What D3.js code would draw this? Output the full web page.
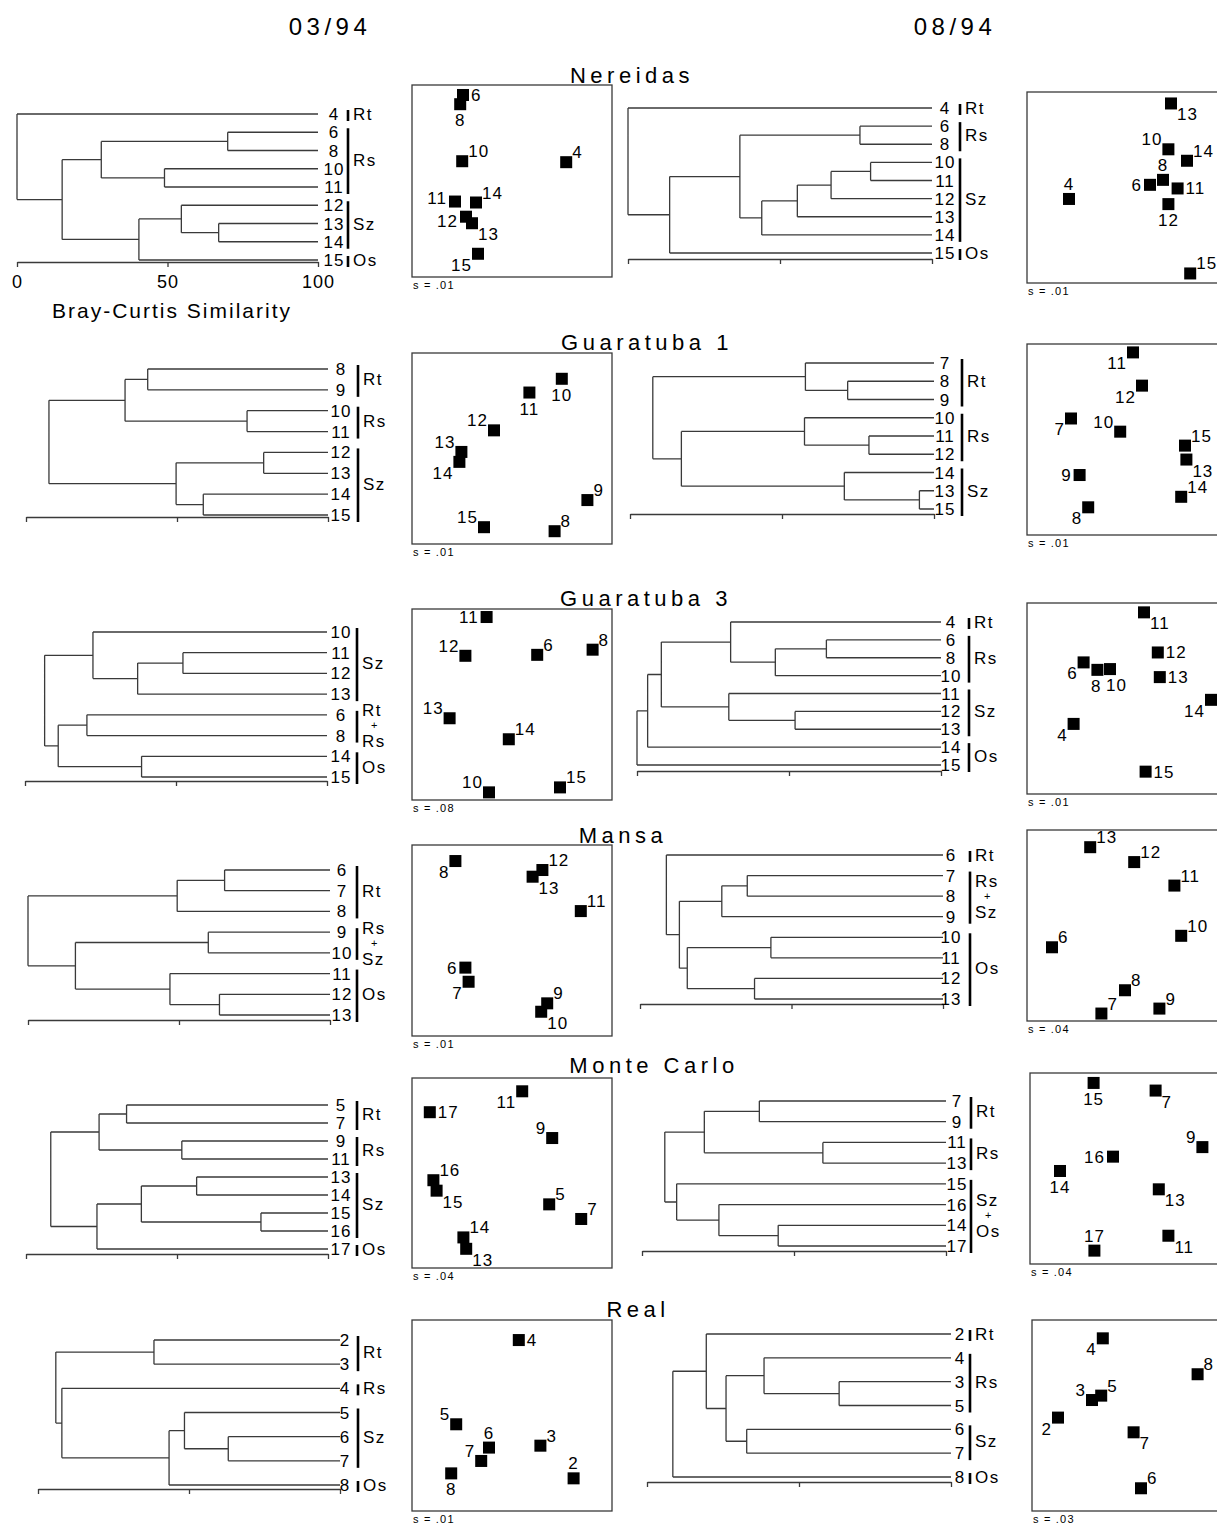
<!DOCTYPE html>
<html>
<head>
<meta charset="utf-8">
<script src="https://cdn.jsdelivr.net/npm/d3@7"></script>
<style>
  body { margin: 0; background: #fff; }
  svg { display: block; font-family: "Liberation Sans", Arial, sans-serif; }
</style>
</head>
<body>
<div id="chart"></div>
<script>
// ---- data ----
var dates = ["03/94", "08/94"];
var sites = ["Nereidas", "Guaratuba 1", "Guaratuba 3", "Mansa", "Monte Carlo", "Real"];
var similarityTicks = [0, 50, 100];

// dendrograms: [similarity, childA, childB], leaves are station labels
var treeNer03 = [0, "4", [15, [28, [70, "6", "8"], [49, "10", "11"]], [40.5, [54.6, "12", [67, "13", "14"]], "15"]]];
var treeNer08 = [0, "4", [13.7, [36.8, [76.3, "6", "8"], [44, [55.7, [66.8, [79.8, "10", "11"], "12"], "13"], "14"]], "15"]];
var treeGu1_03 = [7.6, [32.8, [40.3, "8", "9"], [73.2, "10", "11"]], [49.7, [78.7, "12", "13"], [58.7, "14", "15"]]];
var treeGu1_08 = [7.5, [57.7, "7", [71.6, "8", "9"]], [16.9, [57.4, "10", [78.6, "11", "12"]], [70.5, "14", [95.2, "13", "15"]]]];
var treeGu3_03 = [6.5, [22.5, "10", [37.3, [52.3, "11", "12"], "13"]], [11, [20.5, "6", "8"], [38.6, "14", "15"]]];
var treeGu3_08 = [0, [3.5, [8, [30.8, "4", [45.5, [62.3, "6", "8"], "10"]], [30.2, "11", [52, "12", "13"]]], "14"], "15"];
var treeMan03 = [0, [49.4, [65.1, "6", "7"], "8"], [15.7, [59.7, "9", "10"], [47, "11", [63.4, "12", "13"]]]];
var treeMan08 = [8.7, "6", [13, [27, [35.4, "7", "8"], "9"], [15.6, [43.2, "10", "11"], [37.8, "12", "13"]]]];
var treeMC03 = [8.2, [24.2, [33.3, "5", "7"], [51.6, "9", "11"]], [23.5, [38.2, [56.5, "13", "14"], [77.8, "15", "16"]], "17"]];
var treeMC08 = [7.5, [20.5, [38.6, "7", "9"], [59.5, "11", "13"]], [11.4, "15", [25.3, "16", [44.8, "14", "17"]]]];
var treeReal03 = [5.9, [38.4, "2", "3"], [7.9, "4", [43.4, [48.5, "5", [63, "6", "7"]], "8"]]];
var treeReal08 = [8.5, [19.5, "2", [26, [38.5, "4", [63.2, "3", "5"]], [32.8, "6", "7"]]], "8"];

// zone groups: [zone(s), first leaf, last leaf]
var groupsNer03 = [["Rt", "4", "4"], ["Rs", "6", "11"], ["Sz", "12", "14"], ["Os", "15", "15"]];
var groupsNer08 = [["Rt", "4", "4"], ["Rs", "6", "8"], ["Sz", "10", "14"], ["Os", "15", "15"]];
var groupsGu1_03 = [["Rt", "8", "9"], ["Rs", "10", "11"], ["Sz", "12", "15"]];
var groupsGu1_08 = [["Rt", "7", "9"], ["Rs", "10", "12"], ["Sz", "14", "15"]];
var groupsGu3_03 = [["Sz", "10", "13"], [["Rt", "Rs"], "6", "8"], ["Os", "14", "15"]];
var groupsGu3_08 = [["Rt", "4", "4"], ["Rs", "6", "10"], ["Sz", "11", "13"], ["Os", "14", "15"]];
var groupsMan03 = [["Rt", "6", "8"], [["Rs", "Sz"], "9", "10"], ["Os", "11", "13"]];
var groupsMan08 = [["Rt", "6", "6"], [["Rs", "Sz"], "7", "9"], ["Os", "10", "13"]];
var groupsMC03 = [["Rt", "5", "7"], ["Rs", "9", "11"], ["Sz", "13", "16"], ["Os", "17", "17"]];
var groupsMC08 = [["Rt", "7", "9"], ["Rs", "11", "13"], [["Sz", "Os"], "15", "17"]];
var groupsReal03 = [["Rt", "2", "3"], ["Rs", "4", "4"], ["Sz", "5", "7"], ["Os", "8", "8"]];
var groupsReal08 = [["Rt", "2", "2"], ["Rs", "4", "5"], ["Sz", "6", "7"], ["Os", "8", "8"]];

// MDS ordinations: [station, dim1 (0-100), dim2 (0-100, top to bottom), label side]
var mdsNer03 = [["6", 25.5, 5.2, "r"], ["8", 24.1, 10, "b"], ["10", 25.1, 39.7, "tr"], ["4", 77.1, 40.2, "tr"],
  ["11", 21.5, 60.7, "lu"], ["14", 32, 61.2, "tr"], ["12", 27, 68.6, "ld"], ["13", 30, 72, "br"], ["15", 33, 87.9, "bl"]];
var mdsNer08 = [["13", 72, 6, "br"], ["10", 70.7, 30, "tl"], ["14", 80, 36, "tr"], ["8", 68, 46, "t"], ["6", 61.5, 48.6, "l"],
  ["11", 75.3, 50.5, "r"], ["12", 70.7, 58.7, "b"], ["4", 21, 56, "t"], ["15", 81.6, 95, "tr"]];
var mdsGu1_03 = [["10", 74.9, 13.5, "b"], ["11", 58.7, 20.7, "b"], ["12", 41, 40.5, "tl"], ["13", 24.7, 51.8, "tl"],
  ["14", 23.7, 57, "bl"], ["9", 87.7, 77, "tr"], ["15", 36, 91.2, "tl"], ["8", 71.3, 93.3, "tr"]];
var mdsGu1_08 = [["11", 53, 4.4, "bl"], ["12", 57.5, 21.8, "bl"], ["7", 22, 39, "bl"], ["10", 46.6, 45.9, "tl"],
  ["15", 79, 53.2, "tr"], ["13", 79.7, 60.5, "br"], ["9", 26.3, 68.6, "l"], ["14", 77.1, 80, "tr"], ["8", 30.6, 85.5, "bl"]];
var mdsGu3_03 = [["11", 37.3, 4.2, "l"], ["12", 26.7, 24.5, "tl"], ["6", 62.6, 24, "tr"], ["8", 90.3, 21.3, "tr"],
  ["13", 18.8, 57.2, "tl"], ["14", 48.4, 68.2, "tr"], ["10", 38.5, 96, "tl"], ["15", 74, 93.4, "tr"]];
var mdsGu3_08 = [["11", 58.5, 4.9, "br"], ["12", 65.4, 25.9, "r"], ["13", 66.4, 38.8, "r"], ["6", 28.3, 31.1, "bl"],
  ["8", 35.2, 35, "bw"], ["10", 41.5, 34.6, "be"], ["14", 92, 50.7, "bl"], ["4", 23.3, 63.3, "bl"], ["15", 59.3, 88.3, "r"]];
var mdsMan03 = [["8", 21.7, 8.4, "bl"], ["12", 65.2, 13.1, "tr"], ["13", 60.3, 16.6, "br"], ["11", 84.4, 34.6, "tr"],
  ["6", 26.7, 64.2, "l"], ["7", 28.3, 71.6, "bl"], ["9", 67.6, 82.9, "tr"], ["10", 64.6, 87.3, "br"]];
var mdsMan08 = [["13", 31.6, 9, "tr"], ["12", 53.6, 16.8, "tr"], ["11", 73.7, 29.1, "tr"], ["10", 77.1, 55.4, "tr"],
  ["6", 12.5, 61.4, "tr"], ["8", 49, 83.9, "tr"], ["9", 66.2, 93.5, "tr"], ["7", 37.2, 96.1, "tr"]];
var mdsMC03 = [["11", 55.1, 7, "bl"], ["17", 8.9, 18, "r"], ["9", 70.1, 31.6, "tl"], ["16", 10.7, 53.8, "tr"],
  ["15", 12.3, 59.3, "br"], ["5", 68.6, 66.5, "tr"], ["7", 84.6, 74.2, "tr"], ["14", 25.7, 83.9, "tr"], ["13", 27.1, 89.9, "br"]];
var mdsMC08 = [["15", 31.8, 5.2, "b"], ["7", 62.8, 9.2, "br"], ["9", 86.2, 38.8, "tl"], ["16", 41.5, 43.8, "l"],
  ["14", 15, 51.3, "b"], ["13", 64.4, 60.9, "br"], ["17", 32.2, 93, "t"], ["11", 69.2, 85.2, "br"]];
var mdsReal03 = [["4", 53.4, 10.5, "r"], ["5", 22.1, 54.6, "tl"], ["6", 38.5, 66.8, "t"], ["7", 34.6, 73.8, "tl"],
  ["3", 64.2, 65.8, "tr"], ["2", 80.8, 82.9, "t"], ["8", 19.6, 80.3, "b"]];
var mdsReal08 = [["4", 35.4, 9.6, "bl"], ["8", 82.8, 28.4, "tr"], ["5", 34.6, 39.6, "tr"], ["3", 30, 41.9, "tl"],
  ["2", 13, 51.1, "bl"], ["7", 50.8, 58.8, "br"], ["6", 54.5, 88.1, "tr"]];

var stress03 = [".01", ".01", ".08", ".01", ".04", ".01"];
var stress08 = [".01", ".01", ".01", ".04", ".04", ".03"];

// ---- layout (pixels) ----
var layout03 = [
  {x0: 17, x1: 318, y0: 114, y1: 260, ay: 262, lx: 334, bx: 348, px: 412, py: 85, ph: 192},
  {x0: 26, x1: 328, y0: 369, y1: 515, ay: 517, lx: 341, bx: 358, px: 412, py: 353, ph: 191},
  {x0: 25, x1: 327, y0: 632, y1: 777, ay: 781, lx: 341, bx: 357, px: 412, py: 609, ph: 191},
  {x0: 28, x1: 330, y0: 870, y1: 1015, ay: 1020, lx: 342, bx: 357, px: 412, py: 845, ph: 191},
  {x0: 26, x1: 328, y0: 1105, y1: 1249, ay: 1254, lx: 341, bx: 357, px: 412, py: 1078, ph: 190},
  {x0: 38, x1: 340, y0: 1340, y1: 1485, ay: 1489, lx: 345, bx: 358, px: 412, py: 1320, ph: 191}
];
var layout08 = [
  {x0: 628, x1: 932, y0: 108, y1: 253, ay: 259, lx: 945, bx: 960, px: 1027, py: 92, ph: 191},
  {x0: 630, x1: 934, y0: 363, y1: 509, ay: 514, lx: 945, bx: 962, px: 1027, py: 344, ph: 191},
  {x0: 637, x1: 941, y0: 622, y1: 765, ay: 771, lx: 951, bx: 969, px: 1027, py: 603, ph: 191},
  {x0: 640, x1: 943, y0: 855, y1: 999, ay: 1004, lx: 951, bx: 970, px: 1027, py: 830, ph: 191},
  {x0: 642, x1: 946, y0: 1101, y1: 1246, ay: 1251, lx: 957, bx: 971, px: 1030, py: 1073, ph: 191},
  {x0: 647, x1: 951, y0: 1334, y1: 1477, ay: 1482, lx: 960, bx: 970, px: 1032, py: 1320, ph: 191}
];
var siteTitles = [[632, 83], [647, 350], [646, 606], [623, 843], [654, 1073], [638, 1317]];

var trees03 = [treeNer03, treeGu1_03, treeGu3_03, treeMan03, treeMC03, treeReal03];
var trees08 = [treeNer08, treeGu1_08, treeGu3_08, treeMan08, treeMC08, treeReal08];
var groups03 = [groupsNer03, groupsGu1_03, groupsGu3_03, groupsMan03, groupsMC03, groupsReal03];
var groups08 = [groupsNer08, groupsGu1_08, groupsGu3_08, groupsMan08, groupsMC08, groupsReal08];
var mds03 = [mdsNer03, mdsGu1_03, mdsGu3_03, mdsMan03, mdsMC03, mdsReal03];
var mds08 = [mdsNer08, mdsGu1_08, mdsGu3_08, mdsMan08, mdsMC08, mdsReal08];

var width = 1217, height = 1528;
var lineColor = "#3a3a3a";

var svg = d3.select("#chart").append("svg")
    .attr("width", width)
    .attr("height", height);

svg.append("rect").attr("width", width).attr("height", height).attr("fill", "#fff");

// column headings
svg.selectAll("text.date").data(dates).enter().append("text")
    .attr("class", "date")
    .attr("x", function (d, i) { return i === 0 ? 330 : 955; })
    .attr("y", 35)
    .attr("text-anchor", "middle")
    .style("font-size", "24px")
    .style("letter-spacing", "4.5px")
    .text(function (d) { return d; });

// site titles
svg.selectAll("text.site").data(sites).enter().append("text")
    .attr("class", "site")
    .attr("x", function (d, i) { return siteTitles[i][0]; })
    .attr("y", function (d, i) { return siteTitles[i][1]; })
    .attr("text-anchor", "middle")
    .style("font-size", "22px")
    .style("letter-spacing", "4.5px")
    .text(function (d) { return d; });

// label placement around a point: [dx, dy, anchor]
var labelSide = {
  r: [8, 6, "start"], l: [-8, 6, "end"], lu: [-8, 2, "end"], ld: [-8, 10, "end"],
  t: [0, -9, "middle"], b: [0, 22, "middle"], bw: [4, 22, "end"], be: [-4, 22, "start"],
  tr: [6, -4, "start"], tl: [-6, -4, "end"], br: [6, 17, "start"], bl: [-6, 17, "end"]
};

function drawDendrogram(tree, groups, L, withLabels) {
  var g = svg.append("g");
  var root = d3.hierarchy(tree, function (d) { return Array.isArray(d) ? d.slice(1) : null; });
  var leaves = root.leaves().map(function (d) { return d.data; });
  var x = d3.scaleLinear().domain([0, 100]).range([L.x0, L.x1]);
  var y = d3.scalePoint().domain(leaves).range([L.y0, L.y1]);

  root.eachAfter(function (n) {
    if (!n.children) {
      n.px = x(100);
      n.py = y(n.data);
    } else {
      n.px = x(n.data[0]);
      n.py = (n.children[0].py + n.children[n.children.length - 1].py) / 2;
    }
  });

  var p = d3.path();
  root.each(function (n) {
    if (!n.children) return;
    p.moveTo(n.px, n.children[0].py);
    p.lineTo(n.px, n.children[n.children.length - 1].py);
    n.children.forEach(function (c) {
      p.moveTo(n.px, c.py);
      p.lineTo(c.px, c.py);
    });
  });
  g.append("path").attr("d", p.toString())
      .attr("fill", "none").attr("stroke", lineColor).attr("stroke-width", 1.3);

  // similarity axis
  var axis = d3.axisBottom(x).tickValues(similarityTicks).tickSize(5).tickSizeOuter(0)
      .tickFormat(withLabels ? d3.format("d") : "");
  var ag = g.append("g").attr("transform", "translate(0," + L.ay + ")").call(axis);
  ag.select(".domain").attr("stroke", lineColor).attr("stroke-width", 1.3);
  ag.selectAll(".tick line").attr("stroke", lineColor).attr("stroke-width", 1.3);
  ag.selectAll(".tick text").attr("y", 26).attr("dy", null)
      .style("font-family", "inherit").style("font-size", "18px").style("letter-spacing", "1px")
      .attr("fill", "#000");
  if (withLabels) {
    g.append("text").attr("x", 172).attr("y", L.ay + 56)
        .attr("text-anchor", "middle")
        .style("font-size", "21px").style("letter-spacing", "2px")
        .text("Bray-Curtis Similarity");
  }

  // station labels
  g.selectAll("text.leaf").data(leaves).enter().append("text")
      .attr("class", "leaf")
      .attr("x", L.lx)
      .attr("y", function (d) { return y(d) + 6; })
      .attr("text-anchor", "middle")
      .style("font-size", "17px").style("letter-spacing", "1px")
      .text(function (d) { return d; });

  // zone bars
  groups.forEach(function (gr) {
    var top = y(gr[1]) - 4, bot = y(gr[2]) + 7, mid = (y(gr[1]) + y(gr[2])) / 2;
    g.append("line").attr("x1", L.bx).attr("x2", L.bx).attr("y1", top).attr("y2", bot)
        .attr("stroke", "#000").attr("stroke-width", 2.6);
    var tx = L.bx + 5;
    if (Array.isArray(gr[0])) {
      g.append("text").attr("x", tx).attr("y", mid - 9)
          .style("font-size", "17px").style("letter-spacing", "1.5px").text(gr[0][0]);
      g.append("text").attr("x", tx + 9).attr("y", mid + 4)
          .style("font-size", "11px").text("+");
      g.append("text").attr("x", tx).attr("y", mid + 22)
          .style("font-size", "17px").style("letter-spacing", "1.5px").text(gr[0][1]);
    } else {
      g.append("text").attr("x", tx).attr("y", mid + 6)
          .style("font-size", "17px").style("letter-spacing", "1.5px").text(gr[0]);
    }
  });
}

function drawMDS(points, stress, L) {
  var g = svg.append("g");
  var w = 200;
  var x = d3.scaleLinear().domain([0, 100]).range([L.px, L.px + w]);
  var y = d3.scaleLinear().domain([0, 100]).range([L.py, L.py + L.ph]);

  g.append("rect").attr("x", L.px).attr("y", L.py).attr("width", w).attr("height", L.ph)
      .attr("fill", "none").attr("stroke", lineColor).attr("stroke-width", 1.3);

  g.selectAll("rect.pt").data(points).enter().append("rect")
      .attr("class", "pt")
      .attr("x", function (d) { return x(d[1]) - 6; })
      .attr("y", function (d) { return y(d[2]) - 6; })
      .attr("width", 12).attr("height", 12)
      .attr("fill", "#000");

  g.selectAll("text.pl").data(points).enter().append("text")
      .attr("class", "pl")
      .attr("x", function (d) { return x(d[1]) + labelSide[d[3]][0]; })
      .attr("y", function (d) { return y(d[2]) + labelSide[d[3]][1]; })
      .attr("text-anchor", function (d) { return labelSide[d[3]][2]; })
      .style("font-size", "17px").style("letter-spacing", "1px")
      .text(function (d) { return d[0]; });

  g.append("text").attr("x", L.px + 1).attr("y", L.py + L.ph + 12)
      .style("font-size", "11px").style("letter-spacing", "1.2px")
      .text("s = " + stress);
}

for (var i = 0; i < sites.length; i++) {
  drawDendrogram(trees03[i], groups03[i], layout03[i], i === 0);
  drawMDS(mds03[i], stress03[i], layout03[i]);
  drawDendrogram(trees08[i], groups08[i], layout08[i], false);
  drawMDS(mds08[i], stress08[i], layout08[i]);
}
</script>
</body>
</html>
